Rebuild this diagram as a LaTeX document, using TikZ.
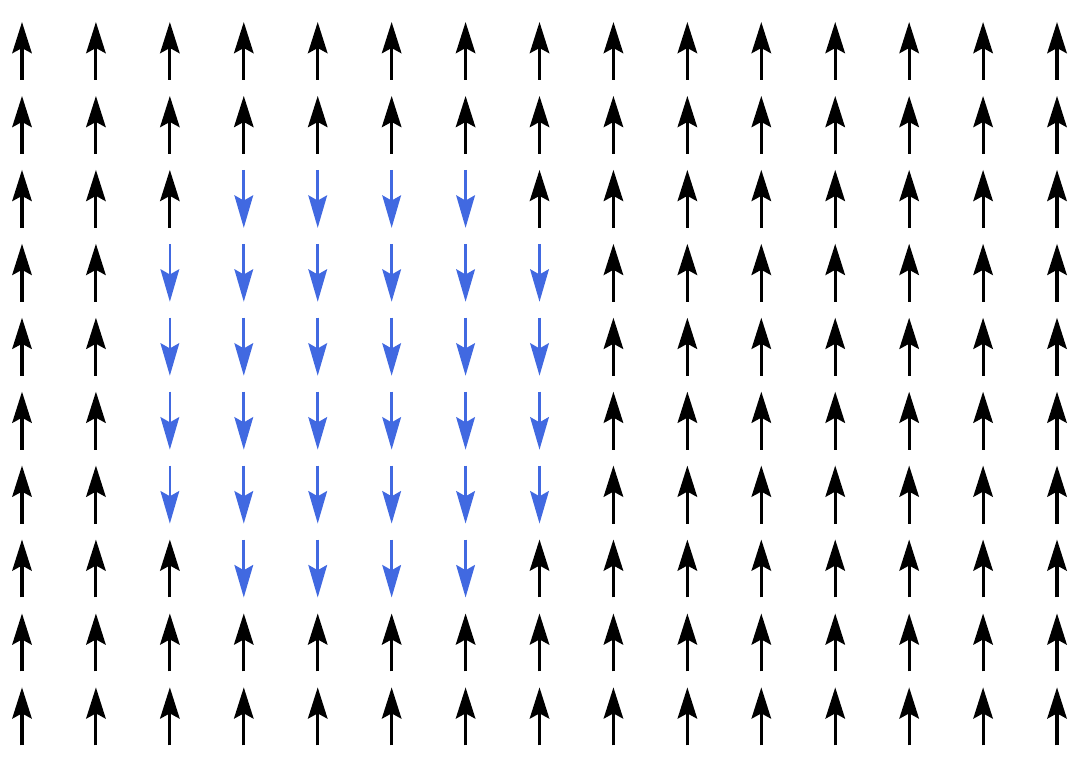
\documentclass[tikz,border=0pt]{standalone}
\usepackage{xcolor}
\usepackage{tikz}
\usetikzlibrary{arrows.meta}
\definecolor{spinDown}{HTML}{4169E1}

\begin{document}
\begin{tikzpicture}[
  spinup/.style={-{Stealth[length=12pt,width=7.5pt,inset=2pt]}, line width=1.2pt, black},
  spindown/.style={-{Stealth[length=12.5pt,width=7.2pt,inset=2pt]}, line width=1pt, spinDown}]
\useasboundingbox (-0.2976,-9.698) rectangle (14.311,0.690);
% lattice of spins, flipped domain in the middle
\foreach \j in {0,...,9}{
  \foreach \i in {0,...,14}{
    \pgfmathsetmacro{\dist}{(\i-4.5)^2+(\j-4.5)^2}
    \ifdim\dist pt<10.24pt
      \draw[spindown] (\i,-\j+0.392) -- (\i,-\j-0.392);
    \else
      \draw[spinup] (\i,-\j-0.392) -- (\i,-\j+0.392);
    \fi
  }
}
\end{tikzpicture}
\end{document}
